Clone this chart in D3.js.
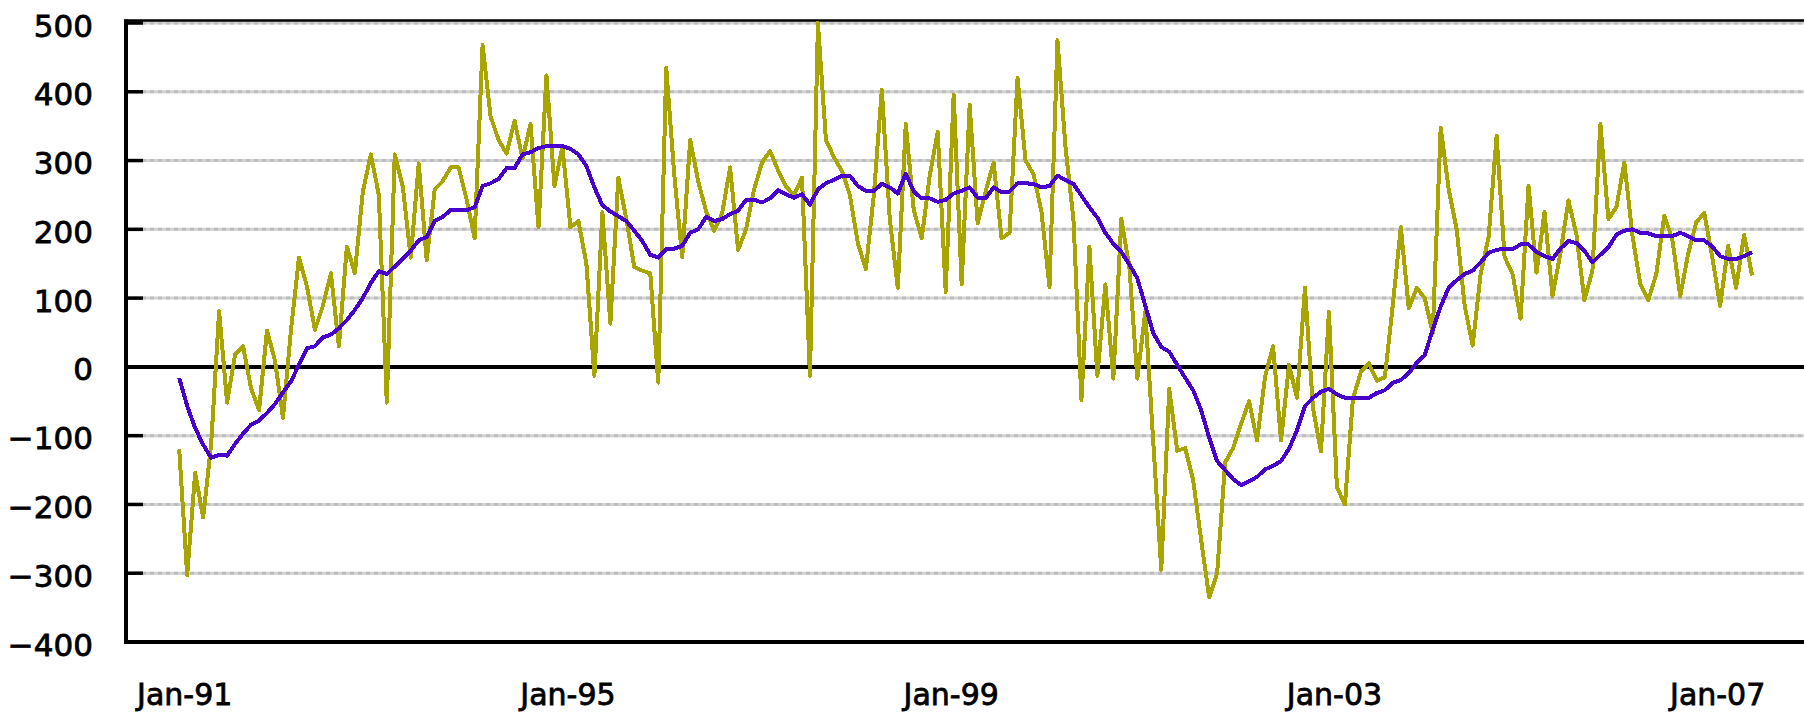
<!DOCTYPE html>
<html><head><meta charset="utf-8">
<script src="https://cdnjs.cloudflare.com/ajax/libs/d3/7.8.5/d3.min.js"></script>
<style>
html,body{margin:0;padding:0;background:#fff;}
svg{display:block;}
</style></head><body>
<svg id="chart" width="1804" height="715"></svg>
<script>
// Monthly change (thousands), Jan-1991 .. Jun-2007
const monthlyChange = [
-120,-303,-154,-219,-113,81,-52,18,30,-31,-63,53,
9,-74,54,159,117,54,89,136,30,175,136,255,
309,250,-52,309,262,159,296,155,258,270,290,290,
243,187,468,364,330,310,358,303,353,203,424,263,
320,203,212,150,-13,225,63,275,215,145,140,136,
-23,435,280,159,330,270,226,198,223,290,170,200,
258,297,314,286,262,250,275,-13,500,330,305,285,
250,180,142,250,403,215,115,353,228,187,278,342,
109,396,120,381,209,255,297,187,195,420,300,280,
225,116,475,320,215,-48,175,-13,120,-17,215,146,
-17,80,-110,-295,-32,-122,-118,-165,-252,-335,-300,-139,
-118,-83,-50,-107,-14,30,-107,3,-45,115,-60,-123,
80,-175,-200,-47,-7,5,-20,-15,90,203,85,115,
100,49,348,258,200,89,31,135,189,336,160,135,
70,263,137,225,103,166,242,192,97,140,353,215,
232,297,192,120,97,135,220,186,103,165,210,224,
160,89,176,115,192,133
];
// 12-month moving average
const movingAverage = [
-16,-57,-89,-113,-132,-128,-129,-112,-97,-84,-78,-67,
-54,-37,-21,3,27,30,43,47,56,68,83,100,
122,139,135,146,157,169,184,189,212,218,228,228,
228,232,263,267,273,289,289,309,312,318,321,321,
321,317,309,292,261,235,226,219,212,198,183,163,
159,171,172,176,195,200,218,212,215,222,227,243,
243,239,245,257,251,246,251,236,258,267,272,278,
278,263,256,256,266,261,252,281,255,245,245,240,
243,252,256,261,246,245,261,254,255,267,267,266,
261,263,278,272,266,249,232,217,195,179,167,149,
129,89,49,29,22,3,-16,-34,-63,-103,-137,-150,
-163,-172,-166,-160,-149,-144,-137,-119,-92,-57,-45,-36,
-32,-40,-45,-45,-45,-45,-38,-34,-23,-19,-9,6,
17,54,88,115,126,135,140,152,166,170,172,171,
178,178,167,161,157,172,183,180,169,152,163,174,
192,198,200,195,194,190,190,190,195,190,184,184,
175,161,157,157,161,167
];
const yTicks = [-400,-300,-200,-100,0,100,200,300,400,500];
const xTickLabels = ["Jan-91","Jan-95","Jan-99","Jan-03","Jan-07"];

const months = d3.timeMonth.range(new Date(1991,0,1), new Date(2007,6,1));
const parseLbl = d3.timeParse("%b-%y");
const xTickDates = xTickLabels.map(parseLbl);

const svg = d3.select("#chart");
const W = 1804;
const x = d3.scalePoint().domain(months).range([179.2, 1752.1]);
const y = d3.scaleLinear().domain([-400, 500]).range([642, 23]);
const axisX = 126;

// gridlines
const grid = svg.append("g");
yTicks.filter(v => v !== 0 && v !== -400).forEach(v => {
  grid.append("line").attr("x1", axisX).attr("x2", W)
    .attr("y1", y(v)).attr("y2", y(v))
    .attr("stroke", "#d2d2d2").attr("stroke-width", 3);
  grid.append("line").attr("x1", axisX).attr("x2", W)
    .attr("y1", y(v)).attr("y2", y(v))
    .attr("stroke", "#bdbdbd").attr("stroke-width", 3)
    .attr("stroke-dasharray", "4,4");
});
// top border
svg.append("line").attr("x1", axisX - 2).attr("x2", W).attr("y1", 20.5).attr("y2", 20.5)
  .attr("stroke", "#000").attr("stroke-width", 2.5);
// zero line
svg.append("line").attr("x1", axisX).attr("x2", W).attr("y1", y(0)).attr("y2", y(0))
  .attr("stroke", "#000").attr("stroke-width", 4);
// bottom axis line
svg.append("line").attr("x1", axisX - 2).attr("x2", W).attr("y1", y(-400)).attr("y2", y(-400))
  .attr("stroke", "#000").attr("stroke-width", 4);

const fontFam = "'DejaVu Sans', Verdana, sans-serif";
// y axis
const yAxis = svg.append("g").attr("transform", `translate(${axisX},0)`)
  .call(d3.axisLeft(y).tickValues(yTicks).tickSize(0).tickPadding(33).tickFormat(d3.format("d")));
yAxis.select(".domain").remove();
yAxis.selectAll("text")
  .attr("font-family", fontFam).attr("font-size", 31).attr("fill", "#000")
  .attr("stroke", "#000").attr("stroke-width", 0.8)
  .attr("dy", "0.42em");
svg.append("line").attr("x1", axisX).attr("x2", axisX).attr("y1", 19.5).attr("y2", 644)
  .attr("stroke", "#000").attr("stroke-width", 4);
// inward tick marks
svg.append("g").selectAll("line").data(yTicks).join("line")
  .attr("x1", axisX).attr("x2", 143).attr("y1", d => y(d)).attr("y2", d => y(d))
  .attr("stroke", "#000").attr("stroke-width", 3.5);

// x axis labels
const xAxis = svg.append("g").attr("transform", `translate(0,${y(-400)})`)
  .call(d3.axisBottom(x).tickValues(xTickDates).tickSize(0).tickPadding(0)
    .tickFormat(d3.timeFormat("%b-%y")));
xAxis.select(".domain").remove();
xAxis.selectAll("text")
  .attr("font-family", fontFam).attr("font-size", 30).attr("fill", "#000")
  .attr("stroke", "#000").attr("stroke-width", 0.8)
  .attr("dy", 0).attr("y", 63).attr("dx", 5);

// series
const lineGen = d3.line().x((d, i) => x(months[i])).y(d => y(d));
svg.append("path").datum(monthlyChange)
  .attr("d", lineGen).attr("fill", "none")
  .attr("stroke", "#a8a400").attr("stroke-width", 4)
  .attr("stroke-linejoin", "round").attr("shape-rendering", "crispEdges");
svg.append("path").datum(movingAverage)
  .attr("d", lineGen).attr("fill", "none")
  .attr("stroke", "#4a00cc").attr("stroke-width", 4)
  .attr("stroke-linejoin", "round").attr("shape-rendering", "crispEdges");
</script>
</body></html>
